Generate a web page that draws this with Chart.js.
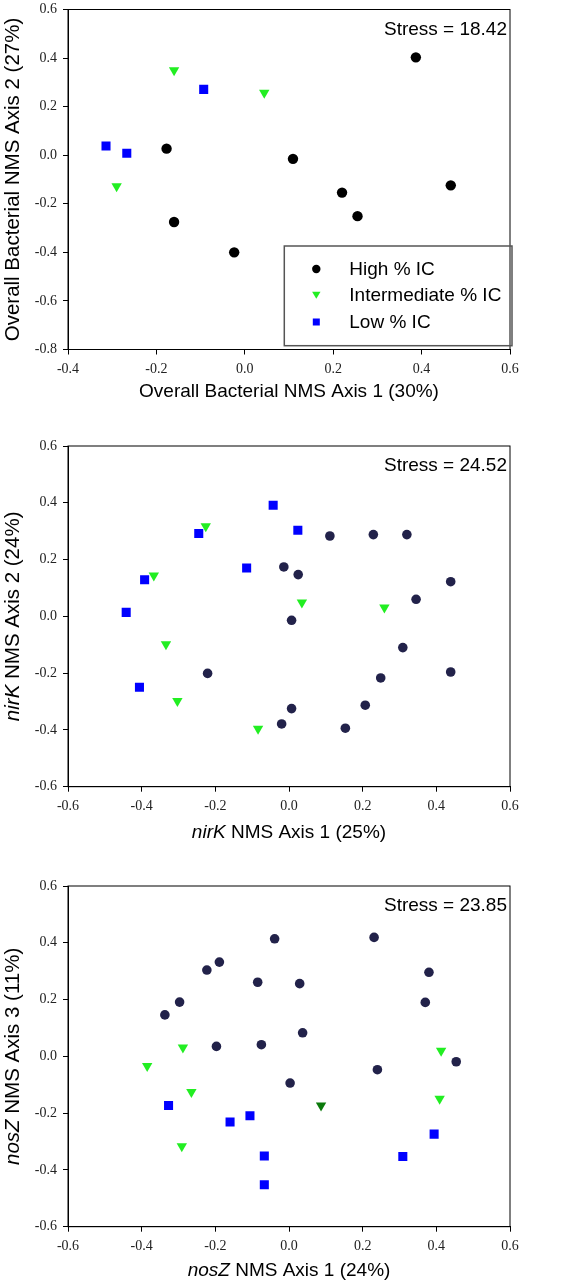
<!DOCTYPE html>
<html lang="en">
<head>
<meta charset="UTF-8">
<title>NMS ordinations</title>
<script src="https://cdn.jsdelivr.net/npm/chart.js"></script>
<style>
  body { margin: 0; background: #fff; }
  canvas { display: block; }
</style>
</head>
<body>
<canvas id="bact" width="575" height="420"></canvas>
<canvas id="nirk" width="575" height="430"></canvas>
<canvas id="nosz" width="575" height="436"></canvas>
<script>
// group names
const groups = ['High % IC', 'Intermediate % IC', 'Low % IC'];

// overall bacterial NMS (axis 1 vs axis 2)
const bactHighX = [0.387, -0.177, 0.109, 0.466, 0.220, 0.255, -0.160, -0.024];
const bactHighY = [0.403, 0.027, -0.015, -0.124, -0.154, -0.251, -0.275, -0.400];
const bactMidX = [-0.160, 0.044, -0.290];
const bactMidY = [0.350, 0.257, -0.128];
const bactLowX = [-0.093, -0.314, -0.267];
const bactLowY = [0.271, 0.038, 0.008];
const bactXTicks = [-0.4, 0.6];
const bactYTicks = [-0.8, 0.6];

// nirK NMS (axis 1 vs axis 2)
const nirkHighX = [0.111, 0.229, 0.320, -0.014, 0.025, 0.439, 0.345, 0.007, 0.309, 0.439, 0.249, -0.221, 0.207, 0.007, -0.020, 0.153];
const nirkHighY = [0.283, 0.288, 0.288, 0.174, 0.147, 0.122, 0.060, -0.014, -0.110, -0.196, -0.217, -0.201, -0.313, -0.325, -0.379, -0.394];
const nirkMidX = [-0.226, -0.367, 0.035, 0.259, -0.334, -0.303, -0.084];
const nirkMidY = [0.317, 0.144, 0.049, 0.031, -0.098, -0.298, -0.396];
const nirkLowX = [-0.043, 0.024, -0.245, -0.115, -0.392, -0.442, -0.406];
const nirkLowY = [0.391, 0.303, 0.292, 0.170, 0.129, 0.014, -0.250];

// nosZ NMS (axis 1 vs axis 3)
const noszHighX = [-0.039, 0.231, -0.189, -0.223, 0.380, -0.085, 0.029, -0.297, 0.370, -0.337, 0.037, -0.197, -0.075, 0.454, 0.240, 0.003];
const noszHighY = [0.414, 0.419, 0.332, 0.304, 0.296, 0.261, 0.256, 0.191, 0.190, 0.146, 0.083, 0.035, 0.041, -0.019, -0.047, -0.094];
const noszMidX = [-0.288, -0.385, 0.413, -0.265, 0.409, -0.291, 0.087];
const noszMidY = [0.031, -0.034, 0.020, -0.126, -0.149, -0.317, -0.173];
const noszLowX = [-0.327, -0.160, -0.106, -0.067, -0.067, 0.394, 0.309];
const noszLowY = [-0.173, -0.231, -0.209, -0.351, -0.452, -0.274, -0.353];
const geneTicks = [-0.6, 0.6];

const GREEN = '#22ee22';
const DARKGREEN = '#0b7a0b';
const BLUE = '#0000ff';
const SANS = '"Liberation Sans", Arial, sans-serif';
const SERIF = '"Liberation Serif", "Times New Roman", serif';

function pts(xs, ys) {
  return xs.map((x, i) => ({ x: x, y: ys[i] }));
}

function fmt(v) {
  return (Math.round(v * 10) / 10).toFixed(1);
}

// draws frame, stress label, axis titles and (optionally) the legend box
const decor = {
  id: 'decor',
  afterDraw(chart, args, o) {
    const ctx = chart.ctx;
    const a = chart.chartArea;
    ctx.save();
    ctx.strokeStyle = '#000';
    ctx.lineWidth = 1;
    ctx.strokeRect(a.left, a.top, a.right - a.left, a.bottom - a.top);

    ctx.fillStyle = '#000';
    ctx.font = '19px ' + SANS;
    ctx.textAlign = 'right';
    ctx.textBaseline = 'middle';
    ctx.fillText(o.stress, a.right - 3, a.top + 20);

    function drawParts(parts, cx, cy, size) {
      let w = 0;
      parts.forEach(p => {
        ctx.font = (p[1] ? 'italic ' : '') + size + 'px ' + SANS;
        w += ctx.measureText(p[0]).width;
      });
      let x = cx - w / 2;
      ctx.textAlign = 'left';
      ctx.textBaseline = 'middle';
      parts.forEach(p => {
        ctx.font = (p[1] ? 'italic ' : '') + size + 'px ' + SANS;
        ctx.fillText(p[0], x, cy);
        x += ctx.measureText(p[0]).width;
      });
    }
    drawParts(o.xTitle, (a.left + a.right) / 2, a.bottom + o.xTitleOff, 19);
    ctx.save();
    ctx.translate(13, (a.top + a.bottom) / 2);
    ctx.rotate(-Math.PI / 2);
    drawParts(o.yTitle, 0, 0, 20.5);
    ctx.restore();

    if (o.legend) {
      const L = o.legend;
      ctx.strokeStyle = '#555';
      ctx.lineWidth = 1.5;
      ctx.strokeRect(L.x, L.y, L.w, L.h);
      ctx.font = '19px ' + SANS;
      ctx.textAlign = 'left';
      ctx.textBaseline = 'middle';
      const rows = [L.y + 23, L.y + 49, L.y + 76];
      const mx = L.x + 32;
      // circle
      ctx.fillStyle = '#000';
      ctx.beginPath();
      ctx.arc(mx, rows[0], 4.2, 0, Math.PI * 2);
      ctx.fill();
      // down triangle
      ctx.fillStyle = GREEN;
      ctx.beginPath();
      ctx.moveTo(mx - 4.2, rows[1] - 3.2);
      ctx.lineTo(mx + 4.2, rows[1] - 3.2);
      ctx.lineTo(mx, rows[1] + 3.8);
      ctx.closePath();
      ctx.fill();
      // square
      ctx.fillStyle = BLUE;
      ctx.fillRect(mx - 3.5, rows[2] - 3.5, 7, 7);
      ctx.fillStyle = '#000';
      groups.forEach((g, i) => ctx.fillText(g, L.x + 65, rows[i] + 1));
    }
    ctx.restore();
  }
};

function makePanel(id, cfg) {
  const axisCommon = {
    type: 'linear',
    grid: { drawOnChartArea: false, drawTicks: true, tickLength: 5, color: '#000' },
    border: { display: true, color: '#000' }
  };
  const tickFont = { family: SERIF, size: 14 };
  new Chart(document.getElementById(id), {
    type: 'scatter',
    data: {
      datasets: [
        {
          label: groups[0],
          data: pts(cfg.high[0], cfg.high[1]),
          pointStyle: 'circle',
          pointRadius: cfg.circleR,
          backgroundColor: cfg.circleColor,
          borderWidth: 0
        },
        {
          label: groups[1],
          data: pts(cfg.mid[0], cfg.mid[1]),
          pointStyle: 'triangle',
          rotation: 180,
          pointRadius: 6,
          backgroundColor: c => (c.dataIndex === cfg.darkIdx ? DARKGREEN : GREEN),
          borderWidth: 0
        },
        {
          label: groups[2],
          data: pts(cfg.low[0], cfg.low[1]),
          pointStyle: 'rect',
          pointRadius: 6.4,
          backgroundColor: BLUE,
          borderWidth: 0
        }
      ]
    },
    options: {
      responsive: false,
      animation: false,
      events: [],
      layout: { padding: { top: cfg.padTop, right: 65, left: 0, bottom: 0 } },
      plugins: {
        legend: { display: false },
        tooltip: { enabled: false },
        decor: cfg.decor
      },
      scales: {
        x: Object.assign({}, axisCommon, {
          min: cfg.xTicks[0], max: cfg.xTicks[1],
          ticks: { stepSize: 0.2, padding: 6, color: '#222', font: tickFont, callback: fmt, maxRotation: 0 },
          afterFit: s => { s.height = cfg.xH; s.paddingLeft = 0; s.paddingRight = 0; }
        }),
        y: Object.assign({}, axisCommon, {
          min: cfg.yTicks[0], max: cfg.yTicks[1],
          ticks: { stepSize: 0.2, padding: 6, color: '#222', font: tickFont, callback: fmt },
          afterFit: s => { s.width = 68; s.paddingTop = 0; s.paddingBottom = 0; }
        })
      }
    },
    plugins: [decor]
  });
}

makePanel('bact', {
  high: [bactHighX, bactHighY], mid: [bactMidX, bactMidY], low: [bactLowX, bactLowY],
  xTicks: bactXTicks, yTicks: bactYTicks,
  circleR: 5.2, circleColor: '#000', darkIdx: -1,
  padTop: 9.5, xH: 70.5,
  decor: {
    stress: 'Stress = 18.42',
    xTitle: [['Overall Bacterial NMS Axis 1 (30%)', false]],
    yTitle: [['Overall Bacterial NMS Axis 2 (27%)', false]],
    xTitleOff: 42.5,
    legend: { x: 284.3, y: 246, w: 227.7, h: 99.7 }
  }
});

makePanel('nirk', {
  high: [nirkHighX, nirkHighY], mid: [nirkMidX, nirkMidY], low: [nirkLowX, nirkLowY],
  xTicks: geneTicks, yTicks: geneTicks,
  circleR: 4.8, circleColor: '#22224a', darkIdx: -1,
  padTop: 26, xH: 63.3,
  decor: {
    stress: 'Stress = 24.52',
    xTitle: [['nirK', true], [' NMS Axis 1 (25%)', false]],
    yTitle: [['nirK', true], [' NMS Axis 2 (24%)', false]],
    xTitleOff: 46
  }
});

makePanel('nosz', {
  high: [noszHighX, noszHighY], mid: [noszMidX, noszMidY], low: [noszLowX, noszLowY],
  xTicks: geneTicks, yTicks: geneTicks,
  circleR: 4.8, circleColor: '#22224a', darkIdx: 6,
  padTop: 36, xH: 59.3,
  decor: {
    stress: 'Stress = 23.85',
    xTitle: [['nosZ', true], [' NMS Axis 1 (24%)', false]],
    yTitle: [['nosZ', true], [' NMS Axis 3 (11%)', false]],
    xTitleOff: 44
  }
});
</script>
</body>
</html>
